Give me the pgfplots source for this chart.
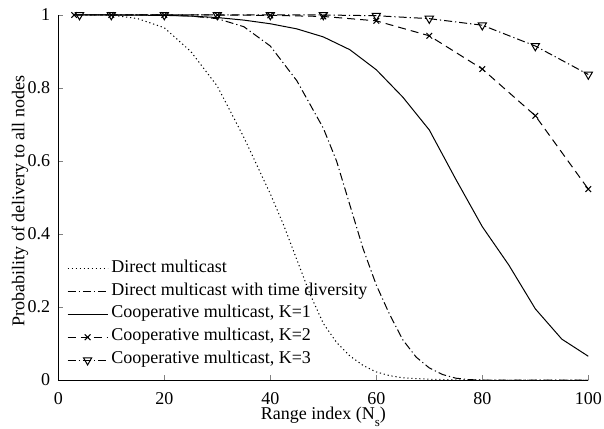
\documentclass[border=0pt]{standalone}
\usepackage{fontspec}
\setmainfont{Liberation Serif}
\usepackage{pgfplots}
\pgfplotsset{compat=1.18}
\newcommand{\fs}{\fontsize{9}{10.5}\selectfont}
\begin{document}
\begin{tikzpicture}
\path[use as bounding box] (-29.15pt,-24pt) rectangle (272.85pt,190pt);
\begin{axis}[
  scale only axis,
  width=265pt, height=182.5pt,
  xmin=0, xmax=100, ymin=0, ymax=1,
  axis x line*=bottom, axis y line*=left,
  tick align=inside,
  major tick length=2.5pt,
  xtick={0,20,40,60,80,100},
  ytick={0,0.2,0.4,0.6,0.8,1},
  /pgf/number format/assume math mode=true,
  every tick label/.append style={font=\fs},
  xticklabel style={yshift=-2.5pt},
  yticklabel style={xshift=-0.5pt},
  axis line style={line width=0.5pt},
  xlabel={Range index (N\raisebox{-3.5pt}{\fontsize{6.5}{7}\selectfont s})},
  ylabel={Probability of delivery to all nodes},
  label style={font=\fs},
  xlabel style={at={(axis description cs:0.5,-0.1077)}, anchor=base},
  ylabel style={at={(axis description cs:-0.0723,0.49)}, anchor=center},
  legend cell align=left,
  legend style={font=\fs, draw=none, fill=none, at={(rel axis cs:0,0)}, anchor=south west,
    xshift=4.2pt, yshift=4pt, inner sep=0pt, column sep=1.6pt, row sep=0pt,
    nodes={inner sep=0pt, text height=7.5pt, text depth=3.95pt}},
  legend image code/.code={\draw[mark repeat=2,mark phase=2,#1] plot coordinates {(0pt,0pt) (10pt,0pt) (20pt,0pt)};},
  every axis plot/.append style={line width=0.5pt, black},
]
\addplot[no marks, dash pattern=on 0.6pt off 1.4pt] coordinates {
(3,1) (10,1) (15,0.99) (20,0.965) (25,0.9) (30,0.805) (35,0.665) (40,0.51) (42.5,0.425) (45,0.33) (47.5,0.235) (50,0.155) (52.5,0.103) (55,0.066) (57.5,0.04) (60,0.022) (62.5,0.012) (65,0.006) (70,0.002) (75,0.0005) (80,0) (100,0)};
\addlegendentry{Direct multicast}
\addplot[no marks, dash pattern=on 4pt off 1.5pt on 0.6pt off 1.5pt] coordinates {
(3,1) (20,1) (25,0.997) (30,0.99) (35,0.968) (40,0.915) (45,0.82) (50,0.69) (52.5,0.6) (55,0.48) (57.5,0.36) (60,0.26) (62.5,0.18) (65,0.11) (67.5,0.063) (70,0.033) (72.5,0.015) (75,0.005) (77.5,0.001) (80,0) (100,0)};
\addlegendentry{Direct multicast with time diversity}
\addplot[no marks, solid] coordinates {
(3,1) (10,1) (20,0.999) (25,0.997) (30,0.993) (35,0.986) (40,0.976) (45,0.962) (50,0.94) (55,0.905) (60,0.85) (65,0.775) (70,0.685) (75,0.55) (80,0.42) (85,0.315) (90,0.195) (95,0.112) (100,0.065)};
\addlegendentry{Cooperative multicast, K=1}
\addplot[mark=x, mark size=2pt, dash pattern=on 4pt off 2.5pt, mark options={solid}] coordinates {
(3,1) (10,1) (20,1) (30,1) (40,0.999) (50,0.996) (60,0.984) (70,0.943) (80,0.852) (90,0.724) (100,0.523)};
\addlegendentry{Cooperative multicast, K=2}
\addplot[mark=triangle, mark size=2.4pt, dash pattern=on 4pt off 1.5pt on 0.6pt off 1.5pt, mark options={solid, rotate=180}] coordinates {
(4,1) (10,1) (20,1) (30,1) (40,1) (50,1) (60,0.998) (70,0.99) (80,0.972) (90,0.915) (100,0.837)};
\addlegendentry{Cooperative multicast, K=3}
\end{axis}
\end{tikzpicture}
\end{document}
